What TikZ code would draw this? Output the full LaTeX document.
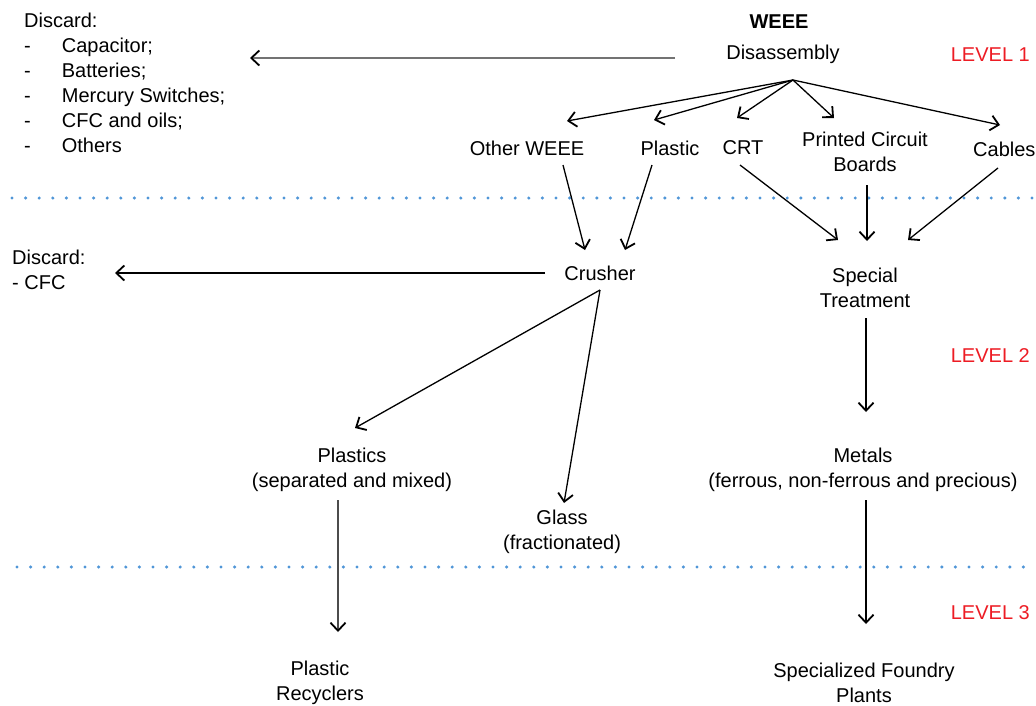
\documentclass[tikz,border=0pt]{standalone}
\usepackage{fontspec}
\setmainfont{Liberation Sans}
\usetikzlibrary{arrows.meta}
\definecolor{dotblue}{RGB}{80,150,215}
\definecolor{levred}{RGB}{237,28,36}
\begin{document}
\begin{tikzpicture}[x=1pt,y=-1pt,
  every node/.style={font=\fontsize{20}{24.5}\selectfont, inner sep=0pt, align=center},
  lev/.style={text=levred, anchor=east},
  conn/.style={line width=1.3pt, -{Straight Barb[length=8pt,width=15pt,line width=1.8pt]}},
  sepline/.style={dotblue, line width=3.4pt, line cap=round, dash pattern=on 0pt off 13.6pt}
]
\useasboundingbox (0,0) rectangle (1036,705);
% separators
\draw[sepline] (12,198) -- (1036,198);
\draw[sepline] (17,567) -- (1036,567);
% nodes
\node[font=\bfseries\fontsize{20}{24.5}\selectfont] (weee) at (779,22) {WEEE};
\node (dis) at (783,54) {Disassembly};
\node[lev] (l1) at (1030,55) {LEVEL 1};
\node[anchor=north west, align=left, font=\fontsize{20}{24.9}\selectfont] (dlist) at (24,13) {Discard:\\
-\hspace{31pt}Capacitor;\\
-\hspace{31pt}Batteries;\\
-\hspace{31pt}Mercury Switches;\\
-\hspace{31pt}CFC and oils;\\
-\hspace{31pt}Others};
\node (other) at (527,148) {Other WEEE};
\node (plastic) at (670,148) {Plastic};
\node (crt) at (743,148) {CRT};
\node (pcb) at (865,152) {Printed Circuit\\Boards};
\node[anchor=west] (cables) at (973,149) {Cables};
\node (crusher) at (600,273) {Crusher};
\node[anchor=north west, align=left] (dcfc) at (12,250) {Discard:\\- CFC};
\node (spec) at (865,288) {Special\\Treatment};
\node[lev] (l2) at (1030,356) {LEVEL 2};
\node (plastics) at (352,470) {Plastics\\(separated and mixed)};
\node (glass) at (562,532) {Glass\\(fractionated)};
\node (metals) at (863,470) {Metals\\(ferrous, non-ferrous and precious)};
\node[lev] (l3) at (1030,613) {LEVEL 3};
\node (recyc) at (320,683) {Plastic\\Recyclers};
\node (foundry) at (864,683) {Specialized Foundry\\Plants};
% coordinates
\coordinate (fan) at (793,80);
\coordinate (disL) at (675,58);
\coordinate (discTip) at (250,58);
\coordinate (crL) at (545,273);
\coordinate (cfcTip) at (115,273);
\coordinate (fan2) at (600,290);
% Level 1 arrows
\draw[line width=2.2pt, black!55, -{Straight Barb[length=8pt,width=15pt,line width=1.8pt,black]}] (disL) -- (discTip);
\draw[conn] (fan) -- (567,121);
\draw[conn] (fan) -- (654,120);
\draw[conn] (fan) -- (737,118);
\draw[conn] (fan) -- (834,118);
\draw[conn] (fan) -- (1000,125);
% Level 2 arrows
\draw[conn] (563,165) -- (585,250);
\draw[conn] (652,165) -- (625,250);
\draw[conn] (740,165) -- (838,240);
\draw[conn] (867,185) -- (867,241);
\draw[conn] (998,168) -- (908,240);
\draw[conn] (crL) -- (cfcTip);
\draw[conn] (866,318) -- (866,412);
\draw[conn] (fan2) -- (355,428);
\draw[conn] (fan2) -- (564,503);
% Level 3 arrows
\draw[line width=1.3pt, black!70, -{Straight Barb[length=8pt,width=15pt,line width=1.8pt,black]}] (338,500) -- (338,632);
\draw[conn] (866,500) -- (866,624);
\end{tikzpicture}
\end{document}
